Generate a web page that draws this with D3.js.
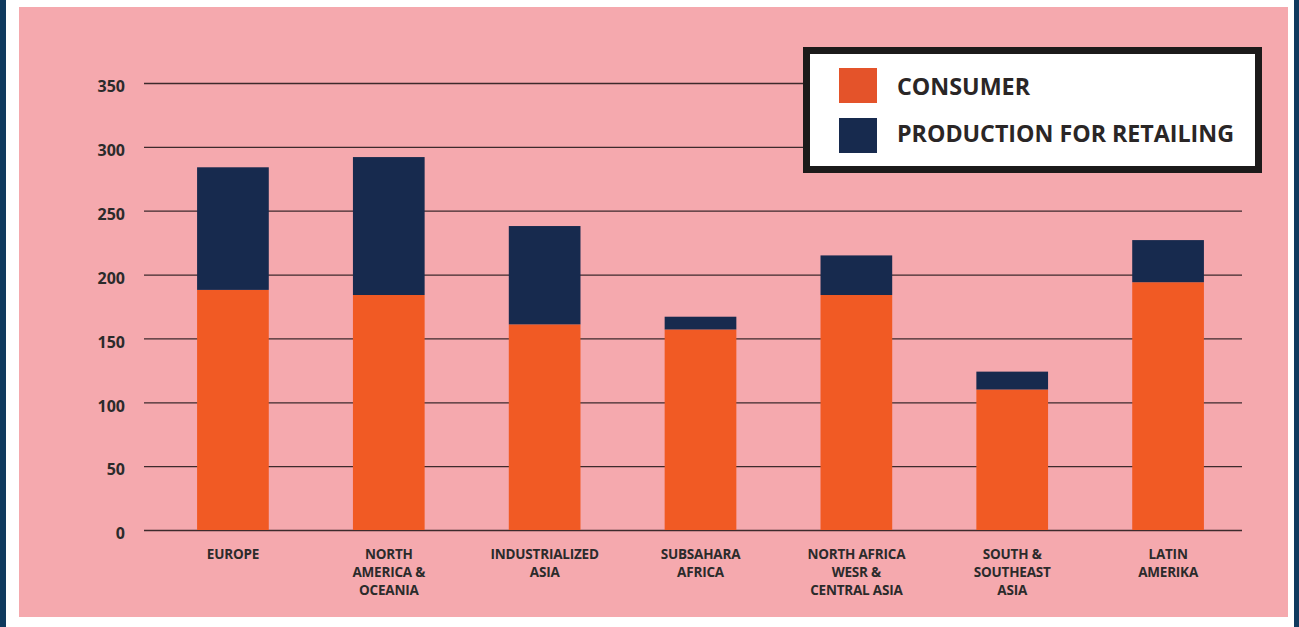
<!DOCTYPE html>
<html>
<head>
<meta charset="utf-8">
<script src="https://cdn.jsdelivr.net/npm/d3@7"></script>
<style>
  html, body { margin: 0; padding: 0; background: #fff; }
  svg { display: block; font-family: "Open Sans", "DejaVu Sans", sans-serif; }
</style>
</head>
<body>
<div id="chart"></div>
<script>
// Data
const regions = ['EUROPE', 'NORTH AMERICA & OCEANIA', 'INDUSTRIALIZED ASIA', 'SUBSAHARA AFRICA',
    'NORTH AFRICA WESR & CENTRAL ASIA', 'SOUTH & SOUTHEAST ASIA', 'LATIN AMERIKA'];
const regionLines = [
    ['EUROPE'],
    ['NORTH', 'AMERICA &', 'OCEANIA'],
    ['INDUSTRIALIZED', 'ASIA'],
    ['SUBSAHARA', 'AFRICA'],
    ['NORTH AFRICA', 'WESR &', 'CENTRAL ASIA'],
    ['SOUTH &', 'SOUTHEAST', 'ASIA'],
    ['LATIN', 'AMERIKA']
];
const consumer = [188, 184, 161, 157, 184, 110, 194];
const production = [96, 108, 77, 10, 31, 14, 33];
const seriesNames = ['CONSUMER', 'PRODUCTION FOR RETAILING'];
const yTicks = [0, 50, 100, 150, 200, 250, 300, 350];

const W = 1299, H = 627;
const font = '"Open Sans", "DejaVu Sans", sans-serif';
const colors = { consumer: '#f15a24', production: '#172a4e', legendConsumer: '#e4532a' };

const svg = d3.select('#chart').append('svg')
    .attr('width', W)
    .attr('height', H);

// Frame
svg.append('rect').attr('width', W).attr('height', H).attr('fill', '#ffffff');
svg.append('rect').attr('x', 0).attr('y', 0).attr('width', 6).attr('height', H).attr('fill', '#0f3a5e');
svg.append('rect').attr('x', 1294).attr('y', 0).attr('width', 5).attr('height', H).attr('fill', '#0f3a5e');
svg.append('rect').attr('x', 19).attr('y', 7).attr('width', 1269).attr('height', 610).attr('fill', '#f5a9ae');

const plotLeft = 144, plotRight = 1242;
const y = d3.scaleLinear().domain([0, 350]).range([530, 83]);
const x = d3.scaleBand().domain(regions).range([155, 1246]).paddingInner(0.54).paddingOuter(0.27);

// Y axis with gridlines
const yAxis = svg.append('g')
    .attr('transform', `translate(${plotLeft},0)`)
    .call(d3.axisLeft(y).tickValues(yTicks).tickSize(-(plotRight - plotLeft)).tickPadding(19).tickFormat(d3.format('d')))
    .attr('font-family', font);
yAxis.select('.domain').remove();
yAxis.selectAll('line').attr('stroke', '#3d2a2c').attr('stroke-width', 1.3);
yAxis.selectAll('text')
    .attr('fill', '#2b2b2b')
    .attr('dy', '0.36em')
    .attr('y', 3)
    .style('font-size', '16px')
    .style('font-weight', 700);

// Stacked bars
const stackData = regions.map((r, i) => ({ region: r, consumer: consumer[i], production: production[i] }));
const stacked = d3.stack().keys(['consumer', 'production'])(stackData);

svg.append('g')
    .selectAll('g')
    .data(stacked)
    .enter()
    .append('g')
    .attr('fill', d => colors[d.key])
    .selectAll('rect')
    .data(d => d)
    .enter()
    .append('rect')
    .attr('x', d => x(d.data.region))
    .attr('y', d => y(d[1]))
    .attr('width', x.bandwidth())
    .attr('height', d => y(d[0]) - y(d[1]));

// Category labels
const xAxis = svg.append('g')
    .attr('transform', 'translate(0,530)')
    .call(d3.axisBottom(x).tickSize(0).tickFormat(''))
    .attr('font-family', font);
xAxis.select('.domain').remove();
xAxis.selectAll('.tick').each(function (d, i) {
    const t = d3.select(this).append('text')
        .attr('text-anchor', 'middle')
        .attr('fill', '#2b2b2b')
        .style('font-size', '13.5px')
        .style('font-weight', 700)
        .style('letter-spacing', '-0.2px');
    regionLines[i].forEach((line, j) => {
        t.append('tspan').attr('x', 0).attr('y', 29 + j * 18).text(line);
    });
});

// Legend
const legend = svg.append('g');
legend.append('rect')
    .attr('x', 806.5).attr('y', 50.5)
    .attr('width', 452).attr('height', 119)
    .attr('fill', '#ffffff')
    .attr('stroke', '#1c1a1a')
    .attr('stroke-width', 7);

const legendItems = [
    { name: seriesNames[0], color: colors.legendConsumer, sy: 68, ty: 95, len: 133 },
    { name: seriesNames[1], color: colors.production, sy: 118, ty: 142, len: 337 }
];
legendItems.forEach(item => {
    legend.append('rect')
        .attr('x', 839).attr('y', item.sy)
        .attr('width', 38).attr('height', 35)
        .attr('fill', item.color);
    legend.append('text')
        .attr('x', 897).attr('y', item.ty)
        .attr('fill', '#2a2626')
        .style('font-size', '24px')
        .style('font-weight', 700)
        .attr('textLength', item.len)
        .attr('lengthAdjust', 'spacingAndGlyphs')
        .text(item.name);
});
</script>
</body>
</html>
